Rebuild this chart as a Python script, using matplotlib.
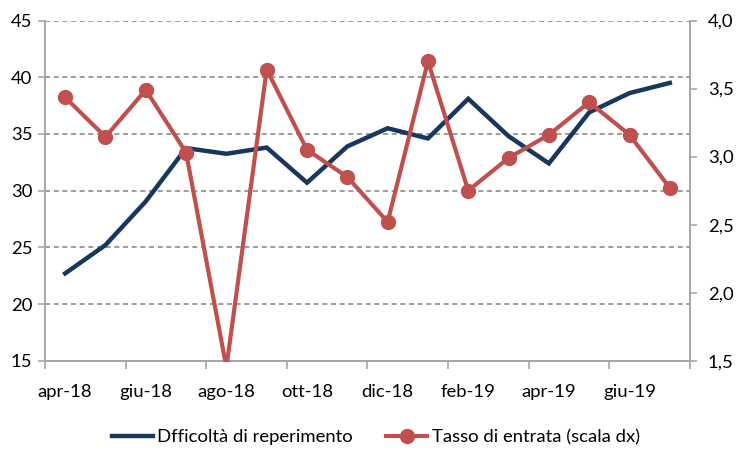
import matplotlib
matplotlib.use("Agg")
import matplotlib.pyplot as plt
from matplotlib.ticker import FuncFormatter

months = ["apr-18", "mag-18", "giu-18", "lug-18", "ago-18", "set-18", "ott-18", "nov-18",
          "dic-18", "gen-19", "feb-19", "mar-19", "apr-19", "mag-19", "giu-19", "lug-19"]
difficolta = [22.7, 25.2, 29.05, 33.75, 33.25, 33.8, 30.7, 33.9,
              35.5, 34.6, 38.1, 34.8, 32.4, 36.9, 38.6, 39.5]
tasso = [3.435, 3.145, 3.49, 3.03, 1.45, 3.64, 3.05, 2.85,
         2.52, 3.70, 2.75, 2.99, 3.16, 3.40, 3.16, 2.77]
left_ticks = [15, 20, 25, 30, 35, 40, 45]
right_ticks = [1.5, 2.0, 2.5, 3.0, 3.5, 4.0]

plt.rcParams['font.family'] = ['Lato', 'DejaVu Sans']
FS = 13.3
BLUE = "#17375E"
RED = "#C0504D"
GRID = "#8C8C8C"
SPINE = "#A6A6A6"

fig = plt.figure(figsize=(7.4, 4.5), dpi=100)
ax = fig.add_axes([0.0608, 0.1984, 0.8716, 0.756])
x = list(range(len(months)))

ax.plot(x, difficolta, color=BLUE, lw=3.2, solid_joinstyle='miter', zorder=3,
        label="Dfficoltà di reperimento")
ax.set_xlim(-0.5, len(months) - 0.5)
ax.set_ylim(15, 45)
ax.set_yticks(left_ticks)
ax.yaxis.grid(True, linestyle=(0, (3, 2.2)), color=GRID, lw=1.2)
ax.set_axisbelow(True)

label_pos = x[::2]
ax.set_xticks(label_pos)
ax.set_xticklabels([months[i] for i in label_pos])
ax.set_xticks([i - 0.5 for i in range(0, len(months) + 1, 2)], minor=True)
ax.tick_params(axis='x', which='major', length=0, pad=17, labelsize=FS)
ax.tick_params(axis='x', which='minor', length=6, width=1.2, color=SPINE, direction='out')
ax.tick_params(axis='y', length=5, width=1.2, color=SPINE, labelsize=FS, pad=4)

for s in ['top']:
    ax.spines[s].set_visible(False)
for s in ['left', 'bottom', 'right']:
    ax.spines[s].set_color(SPINE)
    ax.spines[s].set_linewidth(1.2)

ax2 = ax.twinx()
ax2.plot(x, tasso, color=RED, lw=3.0, marker='o', markersize=10, zorder=4,
         label="Tasso di entrata (scala dx)")
ax2.set_ylim(1.5, 4.0)
ax2.set_yticks(right_ticks)
ax2.yaxis.set_major_formatter(FuncFormatter(lambda v, p: f"{v:.1f}".replace('.', ',')))
ax2.tick_params(axis='y', length=5, width=1.2, color=SPINE, labelsize=FS, pad=8)
ax2.spines['top'].set_visible(False)
for s in ['left', 'bottom', 'right']:
    ax2.spines[s].set_color(SPINE)
    ax2.spines[s].set_linewidth(1.2)

h1, l1 = ax.get_legend_handles_labels()
h2, l2 = ax2.get_legend_handles_labels()
fig.legend(h1 + h2, l1 + l2, loc='center', bbox_to_anchor=(0.508, 0.028), ncol=2,
           frameon=False, fontsize=FS, handlelength=2.2, handletextpad=0.25,
           columnspacing=1.8)

fig.savefig("out.png", dpi=100)
